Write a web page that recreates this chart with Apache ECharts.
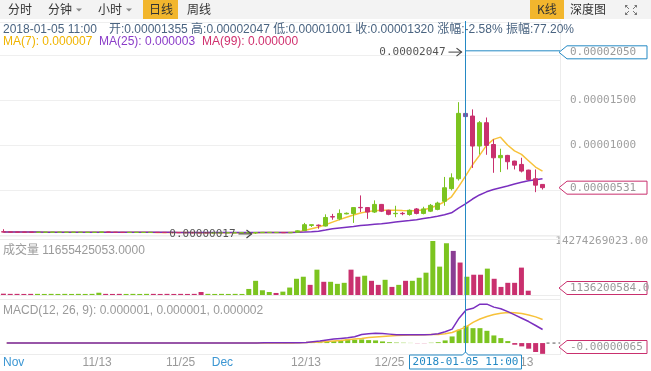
<!DOCTYPE html>
<html><head><meta charset="utf-8">
<script src="https://cdn.jsdelivr.net/npm/echarts@6/dist/echarts.min.js"></script>
<style>html,body{margin:0;padding:0;background:#fff;}#c{width:651px;height:371px;}</style>
</head><body><div id="c"></div>
<script>
// ---------- DATA (prices & MACD in units of 1e-6, volumes in units of 1e9) ----------
const categories = [
'2017-10-31',
'2017-11-01','2017-11-02','2017-11-03','2017-11-04','2017-11-05','2017-11-06','2017-11-07','2017-11-08','2017-11-09','2017-11-10',
'2017-11-11','2017-11-12','2017-11-13','2017-11-14','2017-11-15','2017-11-16','2017-11-17','2017-11-18','2017-11-19','2017-11-20',
'2017-11-21','2017-11-22','2017-11-23','2017-11-24','2017-11-25','2017-11-26','2017-11-27','2017-11-28','2017-11-29','2017-11-30',
'2017-12-01','2017-12-02','2017-12-03','2017-12-04','2017-12-05','2017-12-06','2017-12-07','2017-12-08','2017-12-09','2017-12-10',
'2017-12-11','2017-12-12','2017-12-13','2017-12-14','2017-12-15','2017-12-16','2017-12-17','2017-12-18','2017-12-19','2017-12-20',
'2017-12-21','2017-12-22','2017-12-23','2017-12-24','2017-12-25','2017-12-26','2017-12-27','2017-12-28','2017-12-29','2017-12-30',
'2017-12-31',
'2018-01-01','2018-01-02','2018-01-03','2018-01-04','2018-01-05','2018-01-06','2018-01-07','2018-01-08','2018-01-09','2018-01-10',
'2018-01-11','2018-01-12','2018-01-13','2018-01-14','2018-01-15','2018-01-16','2018-01-17','2018-01-18'
];
const tickDates  = ['2017-11-01','2017-11-13','2017-11-25','2017-12-01','2017-12-13','2017-12-25','2018-01-01','2018-01-13'];
const tickLabels = ['Nov','11/13','11/25','Dec','12/13','12/25','Jan','1/13'];
const monthTicks = ['Nov','Dec','Jan'];

const opens = [
0.42,0.40,0.39,0.38,0.38,0.35,0.36,0.36,0.36,0.35,
0.35,0.35,0.34,0.34,0.34,0.39,0.36,0.35,0.33,0.34,
0.33,0.33,0.35,0.34,0.33,0.33,0.32,0.32,0.31,0.32,
0.29,0.29,0.30,0.30,0.30,0.30,0.29,0.32,0.33,0.33,
0.33,0.31,0.36,0.55,1.12,1.15,1.05,2.10,1.85,2.40,
2.44,3.12,3.10,2.60,3.45,2.80,2.42,2.46,2.33,2.95,
2.45,2.70,2.90,3.80,5.20,6.30,13.55,13.26,9.93,12.52,
10.10,8.63,8.89,8.26,7.89,7.26,6.30,5.67];
const closes = [
0.38,0.37,0.36,0.36,0.35,0.37,0.37,0.38,0.37,0.36,
0.37,0.36,0.36,0.35,0.40,0.36,0.34,0.33,0.35,0.35,
0.34,0.35,0.33,0.32,0.32,0.31,0.31,0.30,0.30,0.29,
0.30,0.31,0.31,0.31,0.32,0.32,0.33,0.35,0.35,0.34,
0.31,0.34,0.52,1.20,1.20,1.10,2.00,2.05,2.45,2.47,
3.10,3.08,2.60,3.45,2.70,2.35,2.46,2.42,2.80,2.45,
2.95,3.35,3.60,5.30,6.40,13.56,13.20,9.93,12.52,10.00,
8.63,8.89,8.19,7.81,7.15,6.22,5.59,5.31];
const lows = [
0.36,0.35,0.34,0.34,0.33,0.34,0.34,0.35,0.35,0.34,
0.34,0.34,0.33,0.33,0.33,0.35,0.33,0.32,0.32,0.33,
0.32,0.32,0.32,0.31,0.30,0.30,0.29,0.29,0.28,0.27,
0.28,0.28,0.29,0.29,0.29,0.29,0.17,0.30,0.31,0.32,
0.29,0.30,0.33,0.50,0.95,0.75,1.00,1.75,1.70,2.35,
1.40,2.60,1.85,2.50,2.60,2.25,2.03,2.25,2.20,2.35,
2.35,2.60,2.80,3.30,5.00,6.10,10.01,7.50,9.00,8.96,
6.96,7.04,7.33,7.33,7.00,6.10,4.81,5.10];
const highs = [
0.70,0.42,0.41,0.40,0.39,0.39,0.38,0.39,0.38,0.37,
0.38,0.37,0.37,0.36,0.42,0.40,0.37,0.36,0.36,0.36,
0.35,0.36,0.36,0.35,0.34,0.34,0.33,0.33,0.32,0.34,
0.31,0.32,0.32,0.32,0.33,0.33,0.35,0.38,0.37,0.36,
0.35,0.36,0.58,1.40,1.22,1.22,2.35,2.40,2.90,2.55,
3.15,4.45,3.15,3.90,3.50,2.85,3.30,2.60,2.90,3.05,
3.19,3.50,3.75,6.50,6.90,14.80,20.47,14.00,12.70,13.10,
10.67,9.63,8.95,8.30,8.63,7.30,7.33,5.70];
const ma7 = [
0.40,0.39,0.39,0.38,0.38,0.37,0.37,0.37,0.37,0.37,
0.37,0.37,0.36,0.36,0.37,0.37,0.36,0.36,0.36,0.35,
0.35,0.35,0.34,0.34,0.33,0.33,0.32,0.32,0.31,0.31,
0.30,0.30,0.30,0.30,0.31,0.31,0.31,0.32,0.33,0.33,
0.33,0.33,0.38,0.55,0.75,0.95,1.20,1.48,1.76,2.02,
2.28,2.50,2.65,2.76,2.80,2.80,2.79,2.77,2.76,2.75,
2.85,3.05,3.35,3.75,4.30,5.40,6.60,7.85,8.90,10.00,
10.67,10.92,10.05,9.40,9.00,8.30,7.60,7.15];
const ma25 = [
0.38,0.38,0.38,0.38,0.38,0.38,0.37,0.37,0.37,0.37,
0.37,0.37,0.37,0.36,0.36,0.36,0.36,0.36,0.36,0.36,
0.35,0.35,0.35,0.35,0.35,0.34,0.34,0.34,0.34,0.33,
0.33,0.33,0.33,0.33,0.32,0.32,0.32,0.32,0.32,0.32,
0.32,0.33,0.35,0.38,0.42,0.48,0.60,0.74,0.83,0.92,
1.00,1.10,1.17,1.24,1.31,1.40,1.49,1.58,1.66,1.76,
1.88,2.00,2.13,2.30,2.52,3.05,3.50,4.05,4.50,4.85,
5.10,5.30,5.50,5.72,5.90,6.08,6.20,6.30];
const volumes = [
0.35,0.30,0.30,0.28,0.30,0.30,0.28,0.30,0.28,0.30,
0.28,0.30,0.28,0.30,0.60,0.30,0.28,0.30,0.28,0.30,
0.28,0.30,0.30,0.28,0.30,0.28,0.30,0.28,0.30,0.80,
0.30,0.28,0.30,0.28,0.30,0.28,1.60,3.75,1.25,0.80,
0.54,0.89,1.97,4.29,4.83,2.68,6.70,3.49,3.49,2.95,
3.22,6.70,4.83,5.10,3.75,2.68,4.02,2.14,2.68,3.75,
3.75,4.56,5.90,14.274269023,7.50,13.68,11.655425053,8.58,4.83,5.36,
5.36,6.97,4.29,2.14,3.22,3.22,7.24,1.136200584];
const dif = [
0,0,0,0,0,0,0,0,0,0,
0,0,0,0,0,0,0,0,0,0,
0,0,0,0,0,0,0,0,0,0,
0,0,0,0,0,0,0.01,0.02,0.02,0.02,
0.02,0.02,0.02,0.04,0.08,0.12,0.18,0.24,0.28,0.32,
0.38,0.52,0.56,0.60,0.58,0.54,0.50,0.50,0.50,0.50,
0.50,0.52,0.56,0.68,0.84,1.50,2.00,2.10,2.35,2.35,
2.17,2.07,1.90,1.70,1.50,1.30,1.06,0.82];
const dea = [
0,0,0,0,0,0,0,0,0,0,
0,0,0,0,0,0,0,0,0,0,
0,0,0,0,0,0,0,0,0,0,
0,0,0,0,0,0,0,0.01,0.01,0.01,
0.01,0.01,0.02,0.03,0.05,0.07,0.10,0.13,0.16,0.20,
0.24,0.28,0.33,0.37,0.40,0.43,0.45,0.47,0.48,0.49,
0.50,0.51,0.52,0.56,0.64,0.80,0.98,1.25,1.45,1.60,
1.72,1.80,1.84,1.83,1.78,1.70,1.58,1.42];
const macdHist = [
0,0,0,0,0,0,0,0,0,0,
0,0,0,0,0,0,0,0,0,0,
0,0,0,0,0,0,0,0,0,0,
0,0,0,0,0,0,0.01,0.01,0.01,0.01,
0.01,0.01,0.01,0.02,0.03,0.05,0.08,0.12,0.18,0.22,
0.20,0.22,0.18,0.16,0.10,0.05,0.03,0.02,0.01,-0.01,
-0.01,0.02,0.05,0.16,0.40,0.80,1.04,0.90,0.90,0.74,
0.46,0.30,0.12,-0.10,-0.20,-0.34,-0.54,-0.65];

const crossDate = '2018-01-05';
const crossLabel = '2018-01-05 11:00';
const crossPrice = 20.5;
const infoDate = '2018-01-05 11:00';
const infoText = '开:0.00001355 高:0.00002047 低:0.00001001 收:0.00001320 涨幅:-2.58% 振幅:77.20%';
const maTexts = ['MA(7): 0.000007', 'MA(25): 0.000003', 'MA(99): 0.000000'];
const volText = '成交量 11655425053.0000';
const macdText = 'MACD(12, 26, 9): 0.000001, 0.000001, 0.000002';
const maxText = '0.00002047', minText = '0.00000017';
const crossPriceText = '0.00002050';
const lastPriceText = '0.00000531', lastVolText = '1136200584.0', lastMacdText = '-0.00000065';

// ---------- STYLE ----------
const GREEN = '#7cc420', RED = '#c9306e', HL_C = '#7b5aa0', HL_V = '#8a3e93';
const YEL = '#f7c23a', PUR = '#7a2fbf', BLUE = '#2489c4';
const MONO = '"DejaVu Sans Mono", monospace';
const SANS = '"Liberation Sans", Arial, "Noto Sans CJK SC", sans-serif';
const crossIdx = categories.indexOf(crossDate);
const lastIdx = closes.length - 1;

const candleData = opens.map((o, i) => {
  const v = [o, closes[i], lows[i], highs[i]];
  if (i === crossIdx) return {value: v, itemStyle: {color: HL_C, color0: HL_C, borderColor: HL_C, borderColor0: HL_C}};
  return v;
});
const volData = volumes.map((v, i) => ({
  value: v,
  itemStyle: {color: i === crossIdx ? HL_V : (closes[i] >= opens[i] ? GREEN : RED)}
}));
const histData = macdHist.map(v => ({value: v, itemStyle: {color: v >= 0 ? GREEN : RED}}));

const G = [
  {left: 0, right: 91, top: 22, height: 213.5},
  {left: 0, right: 91, top: 241, height: 54},
  {left: 0, right: 91, top: 300, height: 54}
];

const chart = echarts.init(document.getElementById('c'), null, {renderer: 'canvas'});
const xBase = (gi) => ({
  type: 'category', gridIndex: gi, data: categories, boundaryGap: true,
  axisLine: {show: false}, axisTick: {show: false}, splitLine: {show: false},
  axisLabel: {show: false}
});
const bottomX = xBase(2);
bottomX.axisLabel = {
  show: true, margin: 3, fontSize: 12, fontFamily: SANS, color: '#9a9a9a',
  interval: (idx, val) => tickDates.indexOf(val) >= 0,
  formatter: (val) => {
    const k = tickDates.indexOf(val);
    if (k < 0) return '';
    const lab = tickLabels[k];
    return monthTicks.indexOf(lab) >= 0 ? '{m|' + lab + '}' : lab;
  },
  rich: {m: {color: '#3d97d3', fontSize: 12, fontFamily: SANS}}
};

chart.setOption({
  animation: false,
  grid: G,
  xAxis: [xBase(0), xBase(1), bottomX],
  yAxis: [
    {type: 'value', gridIndex: 0, position: 'right', min: 0, max: 23.7, interval: 5,
     axisLine: {show: false}, axisTick: {show: false},
     splitLine: {show: true, lineStyle: {color: '#efefef', width: 1}},
     axisLabel: {show: true, margin: 10, color: '#a0a0a0', fontFamily: MONO, fontSize: 11,
       showMinLabel: false, showMaxLabel: false,
       formatter: v => (v * 1e-6).toFixed(8)}},
    {type: 'value', gridIndex: 1, position: 'right', min: 0, max: Math.max.apply(null, volumes),
     interval: Math.max.apply(null, volumes),
     axisLine: {show: false}, axisTick: {show: false}, splitLine: {show: false},
     axisLabel: {show: true, margin: 10, color: '#a0a0a0', fontFamily: MONO, fontSize: 11,
       showMinLabel: false, formatter: v => v > 0 ? (v * 1e9).toFixed(2) : ''}},
    {type: 'value', gridIndex: 2, position: 'right', min: -0.66, max: 2.6,
     axisLine: {show: false}, axisTick: {show: false}, splitLine: {show: false},
     axisLabel: {show: false}}
  ],
  series: [
    {type: 'line', xAxisIndex: 0, yAxisIndex: 0, data: ma7, symbol: 'none', smooth: false, z: 2,
     lineStyle: {color: YEL, width: 1.5}},
    {type: 'line', xAxisIndex: 0, yAxisIndex: 0, data: ma25, symbol: 'none', smooth: false, z: 2,
     lineStyle: {color: PUR, width: 1.5}},
    {type: 'candlestick', xAxisIndex: 0, yAxisIndex: 0, data: candleData, barWidth: 5, z: 3,
     itemStyle: {color: GREEN, color0: RED, borderColor: GREEN, borderColor0: RED, borderWidth: 1}},
    {type: 'bar', xAxisIndex: 1, yAxisIndex: 1, data: volData, barWidth: 5},
    {type: 'bar', xAxisIndex: 2, yAxisIndex: 2, data: histData, barWidth: 5},
    {type: 'line', xAxisIndex: 2, yAxisIndex: 2, data: dea, symbol: 'none',
     lineStyle: {color: YEL, width: 1.5}},
    {type: 'line', xAxisIndex: 2, yAxisIndex: 2, data: dif, symbol: 'none',
     lineStyle: {color: PUR, width: 1.5}}
  ]
});

// ---------- overlays (positions derived from the axes) ----------
const W = 651;
const gRight = W - 91;
const gx = (i) => chart.convertToPixel({xAxisIndex: 0}, categories[i]);
const gy = (ai, v) => chart.convertToPixel({yAxisIndex: ai}, v);

function tagBox(yc, text, color, clampTop, clampBottom) {
  let y = yc;
  if (clampBottom !== undefined) y = Math.min(y, clampBottom - 7);
  if (clampTop !== undefined) y = Math.max(y, clampTop + 7);
  const x0 = gRight - 1, x1 = 647, h = 6.5;
  return [
    {type: 'polygon', z: 100, shape: {points: [[x0, y], [x0 + 8, y - h], [x1, y - h], [x1, y + h], [x0 + 8, y + h]]},
     style: {fill: '#fff', stroke: color, lineWidth: 1}},
    {type: 'text', z: 101, x: 570, y: y, style: {text: text, fill: '#9a9a9a', font: '11px ' + MONO, textVerticalAlign: 'middle', textAlign: 'left'}}
  ];
}
function arrowNote(xTip, yTip, text) {
  return [
    {type: 'polyline', z: 90, shape: {points: [[xTip - 13, yTip], [xTip, yTip]]}, style: {stroke: '#444', lineWidth: 1}},
    {type: 'polyline', z: 90, shape: {points: [[xTip - 5, yTip - 4], [xTip, yTip], [xTip - 5, yTip + 4]]}, style: {stroke: '#444', lineWidth: 1.2, fill: null}},
    {type: 'text', z: 90, x: xTip - 16, y: yTip, style: {text: text, fill: '#555', font: '11px ' + MONO, textAlign: 'right', textVerticalAlign: 'middle'}}
  ];
}

const xc = gx(crossIdx);
const yCross = gy(0, crossPrice);
const maxIdx = highs.indexOf(Math.max.apply(null, highs));
const minIdx = lows.indexOf(Math.min.apply(null, lows));
const gfx = [];

// pane borders
const LC = '#ececec';
const hline = (y, x1, x2) => gfx.push({type: 'line', z: 1, shape: {x1: x1, y1: y, x2: x2, y2: y}, style: {stroke: LC, lineWidth: 1}});
hline(G[0].top + G[0].height + 0.5, 0, gRight);
hline(G[1].top - 1.5, 0, gRight);
hline(G[1].top + G[1].height + 0.5, 0, gRight);
hline(G[2].top - 0.5, 0, gRight);
hline(G[2].top + G[2].height + 0.5, 0, gRight);
gfx.push({type: 'line', z: 1, shape: {x1: gRight + 0.5, y1: 20, x2: gRight + 0.5, y2: G[2].top + G[2].height + 1}, style: {stroke: LC, lineWidth: 1}});

// toolbar
gfx.push({type: 'rect', z: 50, shape: {x: 0, y: 0, width: W, height: 19}, style: {fill: '#f3f3f3'}});
gfx.push({type: 'rect', z: 51, shape: {x: 143, y: 0, width: 35, height: 19}, style: {fill: '#f2b62d'}});
gfx.push({type: 'rect', z: 51, shape: {x: 530, y: 0, width: 34, height: 19}, style: {fill: '#f2b62d'}});
const tb = [['分时', 8], ['分钟', 48], ['小时', 98], ['日线', 149], ['周线', 187], ['K线', 537], ['深度图', 570]];
tb.forEach(t => gfx.push({type: 'text', z: 52, x: t[1], y: 9.5, style: {text: t[0], fill: '#333', font: '12px "Noto Sans CJK SC", sans-serif', textVerticalAlign: 'middle'}}));
[[79, 10], [129, 10]].forEach(p => gfx.push({type: 'polygon', z: 52, shape: {points: [[p[0] - 3, p[1] - 1.5], [p[0] + 3, p[1] - 1.5], [p[0], p[1] + 1.5]]}, style: {fill: '#888'}}));
[[[625, 5], [628, 5], [625, 8]], [[637, 5], [634, 5], [637, 8]], [[625, 15], [628, 15], [625, 12]], [[637, 15], [634, 15], [637, 12]]].forEach(pts =>
  gfx.push({type: 'polygon', z: 52, shape: {points: pts}, style: {fill: '#777'}}));
[[[626, 6], [629, 9]], [[636, 6], [633, 9]], [[626, 14], [629, 11]], [[636, 14], [633, 11]]].forEach(pts =>
  gfx.push({type: 'polyline', z: 52, shape: {points: pts}, style: {stroke: '#777', lineWidth: 1}}));

// crosshair
gfx.push({type: 'line', z: 80, shape: {x1: xc, y1: 21, x2: xc, y2: G[2].top + G[2].height}, style: {stroke: BLUE, lineWidth: 1}});
gfx.push({type: 'line', z: 80, shape: {x1: xc, y1: yCross, x2: gRight, y2: yCross}, style: {stroke: BLUE, lineWidth: 1}});

// info texts
gfx.push({type: 'text', z: 95, x: 3, y: 30, style: {text: infoDate, fill: '#4a6481', font: '12px ' + SANS, textVerticalAlign: 'middle'}});
gfx.push({type: 'text', z: 95, x: 109, y: 30, style: {text: infoText, fill: '#4a6481', font: '12px ' + SANS, textVerticalAlign: 'middle'}});
const maCols = ['#f0b400', '#8a3cc8', '#d0306e'];
const maX = [3, 99, 202];
maTexts.forEach((t, k) => gfx.push({type: 'text', z: 95, x: maX[k], y: 42, style: {text: t, fill: maCols[k], font: '12px ' + SANS, textVerticalAlign: 'middle'}}));
gfx.push({type: 'text', z: 95, x: 3, y: 251, style: {text: volText, fill: '#9a9a9a', font: '12px ' + SANS, textVerticalAlign: 'middle'}});
gfx.push({type: 'text', z: 95, x: 3, y: 311, style: {text: macdText, fill: '#9a9a9a', font: '12px ' + SANS, textVerticalAlign: 'middle'}});

// max / min notes
arrowNote(gx(maxIdx) - 4, gy(0, highs[maxIdx]) + 1, maxText).forEach(e => gfx.push(e));
arrowNote(gx(minIdx) - 4, gy(0, lows[minIdx]), minText).forEach(e => gfx.push(e));

// right tags
tagBox(yCross + 1.5, crossPriceText, BLUE).forEach(e => gfx.push(e));
tagBox(gy(0, closes[lastIdx]), lastPriceText, RED).forEach(e => gfx.push(e));
tagBox(gy(1, volumes[lastIdx]), lastVolText, RED, G[1].top, G[1].top + G[1].height).forEach(e => gfx.push(e));
const yM0 = gy(2, 0);
gfx.push({type: 'line', z: 60, shape: {x1: gx(lastIdx) + 4, y1: yM0, x2: gRight, y2: yM0}, style: {stroke: '#555', lineWidth: 1, lineDash: [3, 3]}});
tagBox(gy(2, macdHist[lastIdx]), lastMacdText, RED, G[2].top, G[2].top + G[2].height).forEach(e => gfx.push(e));

// date tag on x axis
const yb = G[2].top + G[2].height + 1;
gfx.push({type: 'polygon', z: 100, shape: {points: [[xc - 56, yb], [xc - 3, yb], [xc, yb - 3], [xc + 3, yb], [xc + 56, yb], [xc + 56, yb + 14], [xc - 56, yb + 14]]},
  style: {fill: '#fff', stroke: BLUE, lineWidth: 1}});
gfx.push({type: 'text', z: 101, x: xc, y: yb + 7, style: {text: crossLabel, fill: BLUE, font: '11px ' + MONO, textAlign: 'center', textVerticalAlign: 'middle'}});

chart.setOption({graphic: {elements: gfx}});
</script>
</body></html>
